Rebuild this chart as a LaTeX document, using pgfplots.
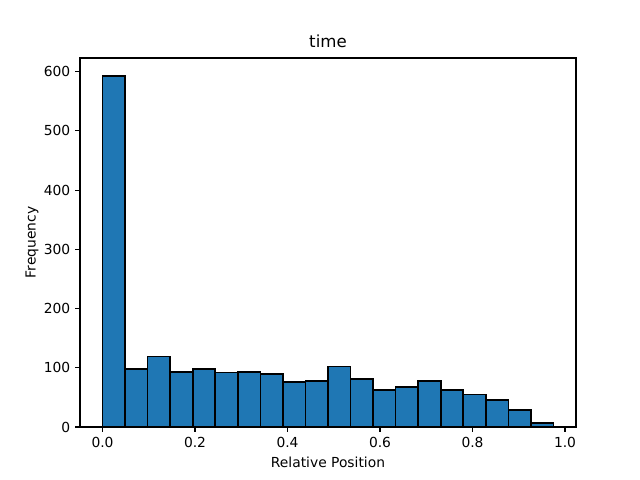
\documentclass[border=0pt]{standalone}
\usepackage{pgfplots}
\pgfplotsset{compat=1.18}
\usepackage{fontspec}
\setmainfont{DejaVu Sans}
\definecolor{mplblue}{HTML}{1F77B4}
\begin{document}
\begin{tikzpicture}
\begin{axis}[name=ax,
  scale only axis, width=4.96in, height=3.69in,
  xmin=-0.04875, xmax=1.02375, ymin=0, ymax=623,
  axis line style={line width=0.8pt},
  tick align=outside, tick style={black, line width=0.8pt}, major tick length=3.5pt,
  xtick={0,0.2,0.4,0.6,0.8,1.0}, ytick={0,100,...,600},
  xtick pos=bottom, ytick pos=left,
  xticklabel style={/pgf/number format/.cd, fixed, fixed zerofill, precision=1},
  /pgf/number format/assume math mode=true,
  tick label style={font=\fontsize{10}{12}\selectfont},
  label style={font=\fontsize{10}{12}\selectfont},
  xlabel={Relative Position}, ylabel={Frequency},
  ylabel style={yshift=-3pt},
  title={time}, title style={font=\fontsize{12}{14}\selectfont, yshift=-2pt},
]
\addplot[ybar interval, fill=mplblue, draw=black, line width=1.2pt] table {
x y
0.00000 593
0.04875 98
0.09750 119
0.14625 93
0.19500 98
0.24375 92
0.29250 93
0.34125 90
0.39000 76
0.43875 78
0.48750 102
0.53625 81
0.58500 63
0.63375 68
0.68250 78
0.73125 63
0.78000 55
0.82875 46
0.87750 29
0.92625 7
0.97500 7
};
\end{axis}
\useasboundingbox ([xshift=-0.8in,yshift=-0.53in]ax.south west) rectangle ([xshift=0.64in,yshift=0.58in]ax.north east);
\end{tikzpicture}
\end{document}
